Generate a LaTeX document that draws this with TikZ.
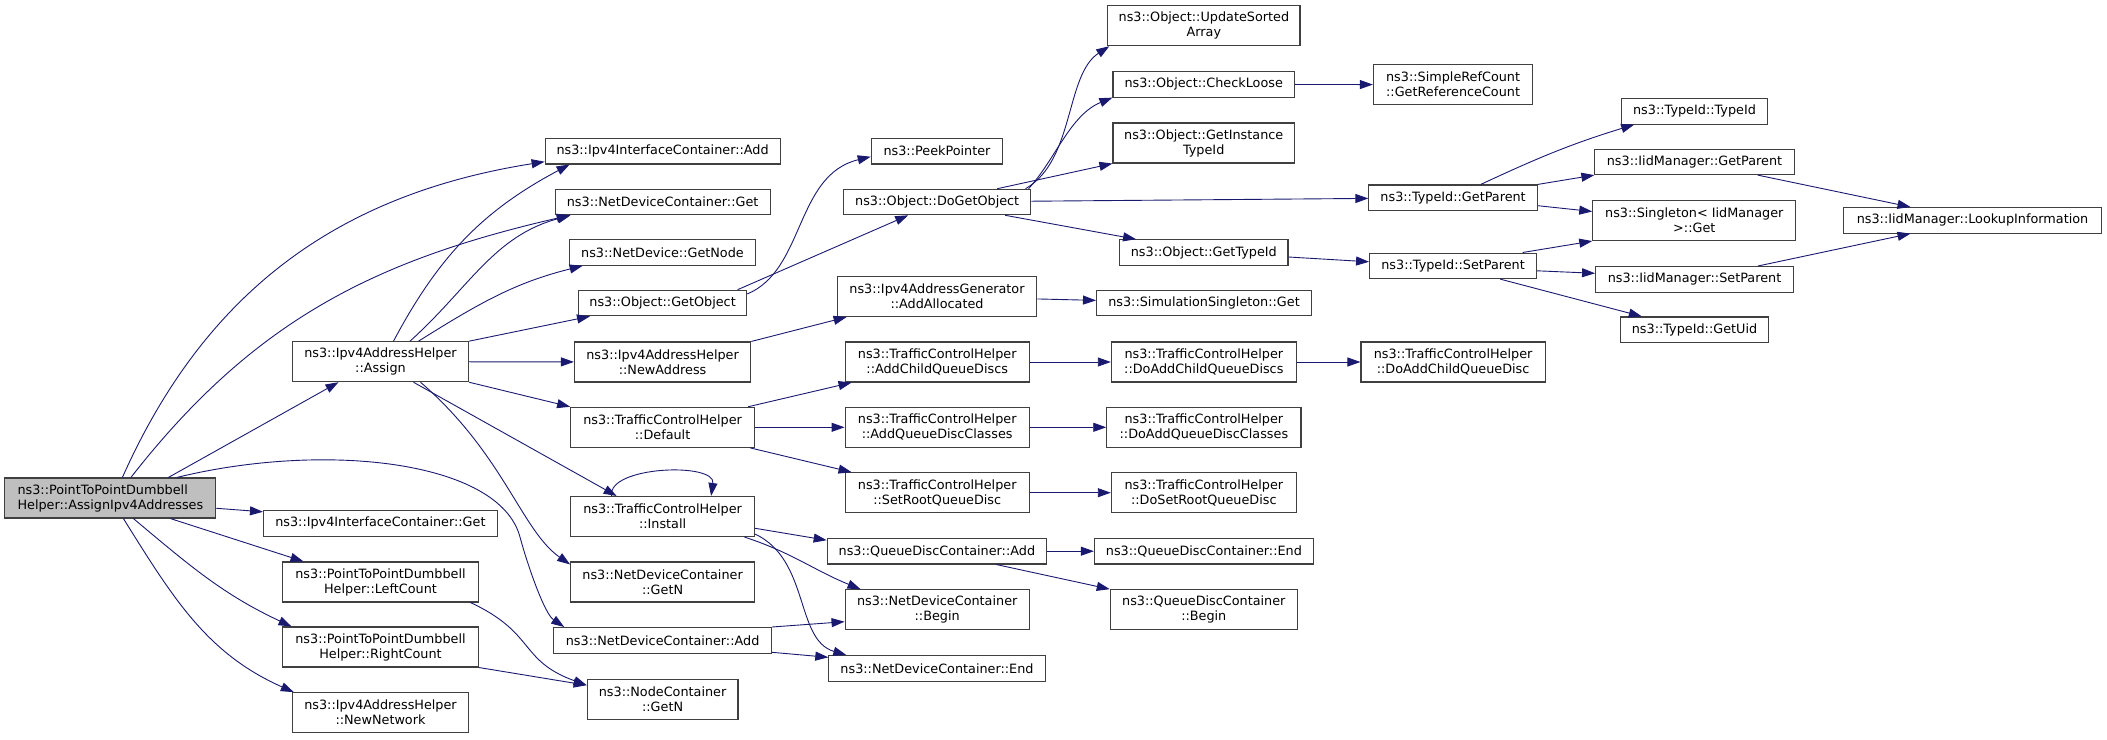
\documentclass[tikz,border=0pt]{standalone}
\usepackage{fontspec}
\setmainfont{DejaVu Sans}
\usetikzlibrary{arrows.meta}
\definecolor{callblue}{HTML}{191970}
\definecolor{boxline}{HTML}{404040}
\definecolor{mainfill}{HTML}{BFBFBF}

\begin{document}
\begin{tikzpicture}[x=1pt,y=1pt,
  font=\fontsize{12.8}{15}\selectfont,
  fn/.style={draw=boxline, line width=1.1pt, fill=white, align=center,
    inner xsep=0pt, inner ysep=2pt, minimum height=25.5pt},
  fn2/.style={fn, minimum height=40pt},
  main/.style={fn2, fill=mainfill, align=left},
  callarrow/.style={draw=callblue, line width=0.9pt, -{Triangle[length=13pt,width=9pt]}}]
  \useasboundingbox (0,0) rectangle (2107,-739);

  \node[main, minimum width=211pt] (dumbbell) at (110.4,-498) {ns3::PointToPointDumbbell\\Helper::AssignIpv4Addresses};
  \node[fn2, minimum width=176.3pt] (assign) at (380.5,-361.7) {ns3::Ipv4AddressHelper\\::Assign};
  \node[fn, minimum width=233.8pt] (ifget) at (380.4,-523.3) {ns3::Ipv4InterfaceContainer::Get};
  \node[fn2, minimum width=196.3pt] (leftcount) at (380.5,-582) {ns3::PointToPointDumbbell\\Helper::LeftCount};
  \node[fn2, minimum width=196.3pt] (rightcount) at (380.5,-647) {ns3::PointToPointDumbbell\\Helper::RightCount};
  \node[fn2, minimum width=176.3pt] (newnetwork) at (380.5,-712.7) {ns3::Ipv4AddressHelper\\::NewNetwork};

  \node[fn, minimum width=234.9pt] (ifadd) at (662.6,-151.2) {ns3::Ipv4InterfaceContainer::Add};
  \node[fn, minimum width=214.9pt] (ndcget) at (662.6,-202) {ns3::NetDeviceContainer::Get};
  \node[fn, minimum width=186.7pt] (getnode) at (662.5,-252.5) {ns3::NetDevice::GetNode};
  \node[fn, minimum width=168.1pt] (getobject) at (662.6,-303) {ns3::Object::GetObject};
  \node[fn2, minimum width=176.3pt] (newaddress) at (662.6,-362) {ns3::Ipv4AddressHelper\\::NewAddress};
  \node[fn2, minimum width=183.9pt] (tcdefault) at (662.6,-427.3) {ns3::TrafficControlHelper\\::Default};
  \node[fn2, minimum width=183.9pt] (tcinstall) at (662.6,-516.5) {ns3::TrafficControlHelper\\::Install};
  \node[fn2, minimum width=183.9pt] (ndcgetn) at (662.6,-582) {ns3::NetDeviceContainer\\::GetN};
  \node[fn, minimum width=217.7pt] (ndcadd) at (662.6,-640.3) {ns3::NetDeviceContainer::Add};
  \node[fn2, minimum width=150.8pt] (ncgetn) at (662.6,-699.2) {ns3::NodeContainer\\::GetN};

  \node[fn, minimum width=131.5pt] (peek) at (937,-151.2) {ns3::PeekPointer};
  \node[fn, minimum width=187pt] (dogetobject) at (937.2,-202) {ns3::Object::DoGetObject};
  \node[fn2, minimum width=199.7pt] (addalloc) at (937,-296.5) {ns3::Ipv4AddressGenerator\\::AddAllocated};
  \node[fn2, minimum width=184.2pt] (addchild) at (937.2,-362) {ns3::TrafficControlHelper\\::AddChildQueueDiscs};
  \node[fn2, minimum width=184.2pt] (addclasses) at (937.2,-427.3) {ns3::TrafficControlHelper\\::AddQueueDiscClasses};
  \node[fn2, minimum width=184.2pt] (setroot) at (937.2,-492.7) {ns3::TrafficControlHelper\\::SetRootQueueDisc};
  \node[fn, minimum width=219.4pt] (qdcadd) at (936.9,-551.2) {ns3::QueueDiscContainer::Add};
  \node[fn2, minimum width=184.2pt] (ndcbegin) at (937.2,-609.7) {ns3::NetDeviceContainer\\::Begin};
  \node[fn, minimum width=216.3pt] (ndcend) at (937,-668.3) {ns3::NetDeviceContainer::End};

  \node[fn2, minimum width=192.2pt] (sorted) at (1203.9,-25.7) {ns3::Object::UpdateSorted\\Array};
  \node[fn, minimum width=181.5pt] (checkloose) at (1203.7,-84.3) {ns3::Object::CheckLoose};
  \node[fn2, minimum width=181.5pt] (insttypeid) at (1203.7,-143) {ns3::Object::GetInstance\\TypeId};
  \node[fn, minimum width=168.4pt] (objtypeid) at (1203.8,-252.5) {ns3::Object::GetTypeId};
  \node[fn, minimum width=214.9pt] (simsingleton) at (1204,-303) {ns3::SimulationSingleton::Get};
  \node[fn2, minimum width=184.9pt] (doaddchildren) at (1203.8,-362) {ns3::TrafficControlHelper\\::DoAddChildQueueDiscs};
  \node[fn2, minimum width=194.2pt] (doaddclasses) at (1203.9,-427.3) {ns3::TrafficControlHelper\\::DoAddQueueDiscClasses};
  \node[fn2, minimum width=184.9pt] (dosetroot) at (1203.8,-492.7) {ns3::TrafficControlHelper\\::DoSetRootQueueDisc};
  \node[fn, minimum width=219pt] (qdcend) at (1203.9,-551.2) {ns3::QueueDiscContainer::End};
  \node[fn2, minimum width=187pt] (qdcbegin) at (1203.8,-609.7) {ns3::QueueDiscContainer\\::Begin};

  \node[fn2, minimum width=159.4pt] (refcount) at (1453.1,-84.7) {ns3::SimpleRefCount\\::GetReferenceCount};
  \node[fn, minimum width=168.4pt] (tidparent) at (1453.1,-197.7) {ns3::TypeId::GetParent};
  \node[fn, minimum width=167pt] (tidsetparent) at (1453.1,-265.8) {ns3::TypeId::SetParent};
  \node[fn2, minimum width=184.2pt] (doaddchild) at (1453.1,-362) {ns3::TrafficControlHelper\\::DoAddChildQueueDisc};

  \node[fn, minimum width=145.5pt] (tidtypeid) at (1694.5,-111.3) {ns3::TypeId::TypeId};
  \node[fn, minimum width=199.2pt] (iidparent) at (1694.5,-161.8) {ns3::IidManager::GetParent};
  \node[fn2, minimum width=203pt] (singletonget) at (1694.3,-220.5) {ns3::Singleton< IidManager\\>::Get};
  \node[fn, minimum width=197.8pt] (iidsetparent) at (1694.5,-279.3) {ns3::IidManager::SetParent};
  \node[fn, minimum width=148.3pt] (tiduid) at (1694.5,-329.7) {ns3::TypeId::GetUid};
  \node[fn, minimum width=257.8pt] (lookup) at (1972.5,-220.3) {ns3::IidManager::LookupInformation};

  \draw[callarrow] ([xshift=12pt]dumbbell.north) to[out=66,in=189] ([yshift=-10.5pt]ifadd.west);
  \draw[callarrow] ([xshift=20.5pt]dumbbell.north) to[out=52,in=193] ([xshift=15pt]ndcget.south west);
  \draw[callarrow] ([xshift=58pt]dumbbell.north) -- ([xshift=-42pt]assign.south);
  \draw[callarrow] ([xshift=66.5pt]dumbbell.north) .. controls (322.5,-441.7) and (499.3,-459.7) .. (520,-537)
    .. controls (527.8,-566) and (544.5,-613.7) .. ([xshift=11pt]ndcadd.north west);
  \draw[callarrow] ([yshift=-10.3pt]dumbbell.east) -- ([yshift=11.5pt]ifget.west);
  \draw[callarrow] ([xshift=60pt]dumbbell.south) -- ([xshift=-77pt]leftcount.north);
  \draw[callarrow] ([xshift=23pt]dumbbell.south) to[out=-40,in=155] ([xshift=-89pt]rightcount.north);
  \draw[callarrow] ([xshift=13pt]dumbbell.south) to[out=-58,in=156] ([xshift=2pt]newnetwork.north west);

  \draw[callarrow] ([xshift=13pt]assign.north) to[out=62,in=208] ([xshift=25pt]ifadd.south west);
  \draw[callarrow] ([xshift=29.5pt]assign.north) to[out=42,in=195] ([xshift=16pt]ndcget.south west);
  \draw[callarrow] ([xshift=38pt]assign.north) to[out=32,in=194] ([xshift=14pt]getnode.south west);
  \draw[callarrow] (assign.north east) -- ([xshift=12pt]getobject.south west);
  \draw[callarrow] (assign) -- (newaddress);
  \draw[callarrow] (assign.south east) -- (tcdefault.north west);
  \draw[callarrow] ([xshift=33pt]assign.south) -- ([xshift=-46pt]tcinstall.north);
  \draw[callarrow] ([xshift=40pt]assign.south) .. controls (503.5,-453.7) and (521.5,-530.6) .. ([yshift=-3pt]ndcgetn.north west);

  \draw[callarrow] ([xshift=-8.7pt]leftcount.south east) to[out=-25,in=160,looseness=1.3] ([yshift=14pt]ncgetn.west);
  \draw[callarrow] (rightcount.south east) -- ([yshift=14pt]ncgetn.west);

  \draw[callarrow] ([yshift=9pt]getobject.east) .. controls (805,-270) and (795,-175) .. ([yshift=-5.5pt]peek.west);
  \draw[callarrow] ([xshift=-9.6pt]getobject.north east) -- ([xshift=-29pt]dogetobject.south);
  \draw[callarrow] (newaddress.north east) -- ([xshift=10pt]addalloc.south west);

  \draw[callarrow] ([xshift=-7pt]tcdefault.north east) -- ([xshift=7pt]addchild.south west);
  \draw[callarrow] (tcdefault) -- (addclasses);
  \draw[callarrow] ([xshift=-5pt]tcdefault.south east) -- ([xshift=7pt]setroot.north west);

  \draw[callarrow] ([xshift=-51pt]tcinstall.north) .. controls (607,-466) and (716,-462) .. ([xshift=48.5pt]tcinstall.north);
  \draw[callarrow] ([yshift=-11.8pt]tcinstall.east) -- ([yshift=11pt]qdcadd.west);
  \draw[callarrow] ([xshift=-10.7pt]tcinstall.south east) to[out=-18,in=158] ([xshift=16pt]ndcbegin.north west);
  \draw[callarrow] ([yshift=3pt]tcinstall.south east) .. controls (810,-560) and (795,-640) .. ([xshift=18pt]ndcend.north west);

  \draw[callarrow] (ndcadd.north east) -- ([yshift=-12pt]ndcbegin.west);
  \draw[callarrow] ([yshift=1.3pt]ndcadd.south east) -- ([yshift=11pt]ndcend.west);

  \draw[callarrow] ([xshift=-5.7pt]dogetobject.north east) .. controls (1075,-160) and (1065,-75) .. ([xshift=2pt]sorted.south west);
  \draw[callarrow] ([xshift=-2.7pt]dogetobject.north east) .. controls (1055,-160) and (1070,-115) .. (checkloose.south west);
  \draw[callarrow] ([xshift=-34pt]dogetobject.north east) -- (insttypeid.south west);
  \draw[callarrow] (dogetobject) -- (tidparent);
  \draw[callarrow] ([xshift=68pt]dogetobject.south) -- ([xshift=17pt]objtypeid.north west);

  \draw[callarrow] (addalloc) -- (simsingleton);
  \draw[callarrow] (addchild) -- (doaddchildren);
  \draw[callarrow] (addclasses) -- (doaddclasses);
  \draw[callarrow] (setroot) -- (dosetroot);
  \draw[callarrow] (qdcadd) -- (qdcend);
  \draw[callarrow] ([xshift=-51pt]qdcadd.south east) -- (qdcbegin.north west);
  \draw[callarrow] (checkloose) -- (refcount);
  \draw[callarrow] (doaddchildren) -- (doaddchild);
  \draw[callarrow] ([yshift=-4.5pt]objtypeid.east) -- ([yshift=4pt]tidsetparent.west);

  \draw[callarrow] ([xshift=27.7pt]tidparent.north) to[out=25,in=197] ([xshift=13pt]tidtypeid.south west);
  \draw[callarrow] (tidparent.north east) -- (iidparent.south west);
  \draw[callarrow] ([yshift=-8pt]tidparent.east) -- ([yshift=9pt]singletonget.west);
  \draw[callarrow] ([xshift=-14.5pt]tidsetparent.north east) -- (singletonget.south west);
  \draw[callarrow] ([yshift=-5pt]tidsetparent.east) -- ([yshift=6pt]iidsetparent.west);
  \draw[callarrow] ([xshift=-37pt]tidsetparent.south east) -- ([xshift=22pt]tiduid.north west);
  \draw[callarrow] ([xshift=-37pt]iidparent.south east) -- ([xshift=-62pt]lookup.north);
  \draw[callarrow] ([xshift=-36pt]iidsetparent.north east) -- ([xshift=-62pt]lookup.south);
\end{tikzpicture}
\end{document}
